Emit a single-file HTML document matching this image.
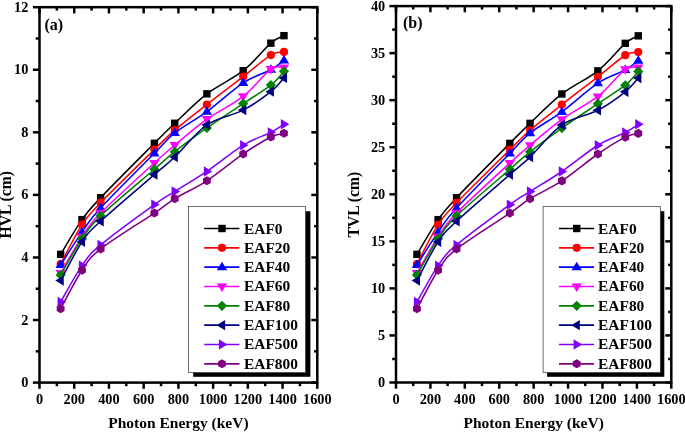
<!DOCTYPE html>
<html><head><meta charset="utf-8"><title>HVL and TVL vs Photon Energy</title>
<style>html,body{margin:0;padding:0;background:#fff;overflow:hidden}svg{display:block;will-change:transform;opacity:0.999}text{font-family:"Liberation Serif",serif;font-weight:bold;fill:#000}</style>
</head><body>
<svg width="685" height="433" viewBox="0 0 685 433">
<rect width="685" height="433" fill="#fff"/>
<path d="M60.64,254.34 C64.20,248.55 75.32,229.05 81.99,219.61 C88.65,210.18 88.55,210.44 100.62,197.72 C112.68,184.99 142.03,155.69 154.38,143.28 C166.73,130.87 165.99,131.50 174.74,123.26 C183.49,115.02 195.48,102.61 206.89,93.85 C218.30,85.10 232.54,79.15 243.20,70.71 C253.86,62.26 264.06,49.02 270.86,43.18 C277.65,37.34 281.78,36.92 283.97,35.67" fill="none" stroke="#000000" stroke-width="1.55"/>
<rect x="56.94" y="250.64" width="7.4" height="7.4" fill="#000000"/>
<rect x="78.29" y="215.91" width="7.4" height="7.4" fill="#000000"/>
<rect x="96.92" y="194.02" width="7.4" height="7.4" fill="#000000"/>
<rect x="150.68" y="139.58" width="7.4" height="7.4" fill="#000000"/>
<rect x="171.04" y="119.56" width="7.4" height="7.4" fill="#000000"/>
<rect x="203.19" y="90.15" width="7.4" height="7.4" fill="#000000"/>
<rect x="239.50" y="67.01" width="7.4" height="7.4" fill="#000000"/>
<rect x="267.16" y="39.48" width="7.4" height="7.4" fill="#000000"/>
<rect x="280.27" y="31.97" width="7.4" height="7.4" fill="#000000"/>
<path d="M60.64,264.04 C64.20,257.47 75.32,234.84 81.99,224.62 C88.65,214.40 88.55,215.23 100.62,202.72 C112.68,190.21 142.03,161.64 154.38,149.54 C166.73,137.44 165.99,137.65 174.74,130.14 C183.49,122.64 195.48,113.41 206.89,104.49 C218.30,95.58 232.54,84.89 243.20,76.65 C253.86,68.41 264.06,59.18 270.86,55.06 C277.65,50.94 281.78,52.46 283.97,51.94" fill="none" stroke="#ff0000" stroke-width="1.55"/>
<circle cx="60.64" cy="264.04" r="4.1" fill="#ff0000"/>
<circle cx="81.99" cy="224.62" r="4.1" fill="#ff0000"/>
<circle cx="100.62" cy="202.72" r="4.1" fill="#ff0000"/>
<circle cx="154.38" cy="149.54" r="4.1" fill="#ff0000"/>
<circle cx="174.74" cy="130.14" r="4.1" fill="#ff0000"/>
<circle cx="206.89" cy="104.49" r="4.1" fill="#ff0000"/>
<circle cx="243.20" cy="76.65" r="4.1" fill="#ff0000"/>
<circle cx="270.86" cy="55.06" r="4.1" fill="#ff0000"/>
<circle cx="283.97" cy="51.94" r="4.1" fill="#ff0000"/>
<path d="M60.64,264.97 C64.20,259.50 75.32,241.62 81.99,232.13 C88.65,222.64 88.55,221.18 100.62,208.04 C112.68,194.90 142.03,165.81 154.38,153.29 C166.73,140.78 165.99,139.89 174.74,132.96 C183.49,126.02 195.48,120.03 206.89,111.69 C218.30,103.34 232.54,89.89 243.20,82.91 C253.86,75.92 264.06,73.52 270.86,69.77 C277.65,66.01 281.78,61.95 283.97,60.38" fill="none" stroke="#0000ff" stroke-width="1.55"/>
<polygon points="60.64,259.57 65.84,268.07 55.44,268.07" fill="#0000ff"/>
<polygon points="81.99,226.73 87.19,235.23 76.79,235.23" fill="#0000ff"/>
<polygon points="100.62,202.64 105.82,211.14 95.42,211.14" fill="#0000ff"/>
<polygon points="154.38,147.89 159.58,156.39 149.18,156.39" fill="#0000ff"/>
<polygon points="174.74,127.56 179.94,136.06 169.54,136.06" fill="#0000ff"/>
<polygon points="206.89,106.29 212.09,114.79 201.69,114.79" fill="#0000ff"/>
<polygon points="243.20,77.51 248.40,86.01 238.00,86.01" fill="#0000ff"/>
<polygon points="270.86,64.37 276.06,72.87 265.66,72.87" fill="#0000ff"/>
<polygon points="283.97,54.98 289.17,63.48 278.77,63.48" fill="#0000ff"/>
<path d="M60.64,273.11 C64.20,267.06 75.32,246.83 81.99,236.82 C88.65,226.81 88.55,225.35 100.62,213.04 C112.68,200.74 142.03,174.31 154.38,162.99 C166.73,151.68 165.99,152.46 174.74,145.16 C183.49,137.86 195.48,127.33 206.89,119.19 C218.30,111.06 232.54,104.70 243.20,96.36 C253.86,88.02 264.06,73.94 270.86,69.14 C277.65,64.34 281.78,67.84 283.97,67.58" fill="none" stroke="#ff00ff" stroke-width="1.55"/>
<polygon points="60.64,278.51 65.84,270.01 55.44,270.01" fill="#ff00ff"/>
<polygon points="81.99,242.22 87.19,233.72 76.79,233.72" fill="#ff00ff"/>
<polygon points="100.62,218.44 105.82,209.94 95.42,209.94" fill="#ff00ff"/>
<polygon points="154.38,168.39 159.58,159.89 149.18,159.89" fill="#ff00ff"/>
<polygon points="174.74,150.56 179.94,142.06 169.54,142.06" fill="#ff00ff"/>
<polygon points="206.89,124.59 212.09,116.09 201.69,116.09" fill="#ff00ff"/>
<polygon points="243.20,101.76 248.40,93.26 238.00,93.26" fill="#ff00ff"/>
<polygon points="270.86,74.54 276.06,66.04 265.66,66.04" fill="#ff00ff"/>
<polygon points="283.97,72.98 289.17,64.48 278.77,64.48" fill="#ff00ff"/>
<path d="M60.64,274.99 C64.20,268.94 75.32,248.55 81.99,238.70 C88.65,228.84 88.55,227.43 100.62,215.86 C112.68,204.28 142.03,179.94 154.38,169.25 C166.73,158.56 165.99,158.61 174.74,151.73 C183.49,144.85 195.48,135.98 206.89,127.95 C218.30,119.92 232.54,110.70 243.20,103.55 C253.86,96.41 264.06,90.47 270.86,85.10 C277.65,79.73 281.78,73.62 283.97,71.33" fill="none" stroke="#008000" stroke-width="1.55"/>
<polygon points="60.64,269.89 65.74,274.99 60.64,280.09 55.54,274.99" fill="#008000"/>
<polygon points="81.99,233.60 87.09,238.70 81.99,243.80 76.89,238.70" fill="#008000"/>
<polygon points="100.62,210.76 105.72,215.86 100.62,220.96 95.52,215.86" fill="#008000"/>
<polygon points="154.38,164.15 159.48,169.25 154.38,174.35 149.28,169.25" fill="#008000"/>
<polygon points="174.74,146.63 179.84,151.73 174.74,156.83 169.64,151.73" fill="#008000"/>
<polygon points="206.89,122.85 211.99,127.95 206.89,133.05 201.79,127.95" fill="#008000"/>
<polygon points="243.20,98.45 248.30,103.55 243.20,108.65 238.10,103.55" fill="#008000"/>
<polygon points="270.86,80.00 275.96,85.10 270.86,90.20 265.76,85.10" fill="#008000"/>
<polygon points="283.97,66.23 289.07,71.33 283.97,76.43 278.87,71.33" fill="#008000"/>
<path d="M60.64,280.62 C64.20,274.15 75.32,251.73 81.99,241.83 C88.65,231.92 88.55,232.39 100.62,221.18 C112.68,209.97 142.03,185.25 154.38,174.57 C166.73,163.88 165.99,165.34 174.74,157.05 C183.49,148.76 195.48,132.65 206.89,124.83 C218.30,117.00 232.54,115.65 243.20,110.12 C253.86,104.60 264.06,97.04 270.86,91.66 C277.65,86.29 281.78,80.19 283.97,77.90" fill="none" stroke="#000080" stroke-width="1.55"/>
<polygon points="55.24,280.62 63.74,275.42 63.74,285.82" fill="#000080"/>
<polygon points="76.59,241.83 85.09,236.63 85.09,247.03" fill="#000080"/>
<polygon points="95.22,221.18 103.72,215.98 103.72,226.38" fill="#000080"/>
<polygon points="148.98,174.57 157.48,169.37 157.48,179.77" fill="#000080"/>
<polygon points="169.34,157.05 177.84,151.85 177.84,162.25" fill="#000080"/>
<polygon points="201.49,124.83 209.99,119.63 209.99,130.03" fill="#000080"/>
<polygon points="237.80,110.12 246.30,104.92 246.30,115.32" fill="#000080"/>
<polygon points="265.46,91.66 273.96,86.46 273.96,96.86" fill="#000080"/>
<polygon points="278.57,77.90 287.07,72.70 287.07,83.10" fill="#000080"/>
<path d="M60.64,301.89 C64.20,295.84 75.32,275.09 81.99,265.60 C88.65,256.11 88.55,255.12 100.62,244.95 C112.68,234.79 142.03,213.51 154.38,204.60 C166.73,195.68 165.99,196.99 174.74,191.46 C183.49,185.93 195.48,179.15 206.89,171.44 C218.30,163.72 232.54,151.68 243.20,145.16 C253.86,138.64 264.06,135.83 270.86,132.33 C277.65,128.84 281.78,125.56 283.97,124.20" fill="none" stroke="#8000ff" stroke-width="1.55"/>
<polygon points="66.04,301.89 57.54,296.69 57.54,307.09" fill="#8000ff"/>
<polygon points="87.39,265.60 78.89,260.40 78.89,270.80" fill="#8000ff"/>
<polygon points="106.02,244.95 97.52,239.75 97.52,250.15" fill="#8000ff"/>
<polygon points="159.78,204.60 151.28,199.40 151.28,209.80" fill="#8000ff"/>
<polygon points="180.14,191.46 171.64,186.26 171.64,196.66" fill="#8000ff"/>
<polygon points="212.29,171.44 203.79,166.24 203.79,176.64" fill="#8000ff"/>
<polygon points="248.60,145.16 240.10,139.96 240.10,150.36" fill="#8000ff"/>
<polygon points="276.26,132.33 267.76,127.13 267.76,137.53" fill="#8000ff"/>
<polygon points="289.37,124.20 280.87,119.00 280.87,129.40" fill="#8000ff"/>
<path d="M60.64,308.77 C64.20,302.36 75.32,280.25 81.99,270.29 C88.65,260.33 88.55,258.56 100.62,249.02 C112.68,239.48 142.03,221.44 154.38,213.04 C166.73,204.65 165.99,204.02 174.74,198.65 C183.49,193.28 195.48,188.28 206.89,180.82 C218.30,173.37 232.54,161.22 243.20,153.92 C253.86,146.62 264.06,140.47 270.86,137.03 C277.65,133.58 281.78,133.90 283.97,133.27" fill="none" stroke="#800080" stroke-width="1.55"/>
<polygon points="64.58,311.05 60.64,313.32 56.70,311.05 56.70,306.50 60.64,304.22 64.58,306.50" fill="#800080"/>
<polygon points="85.93,272.57 81.99,274.84 78.05,272.57 78.05,268.02 81.99,265.74 85.93,268.02" fill="#800080"/>
<polygon points="104.56,251.30 100.62,253.57 96.68,251.30 96.68,246.75 100.62,244.47 104.56,246.75" fill="#800080"/>
<polygon points="158.32,215.32 154.38,217.59 150.44,215.32 150.44,210.77 154.38,208.49 158.32,210.77" fill="#800080"/>
<polygon points="178.68,200.93 174.74,203.20 170.80,200.93 170.80,196.38 174.74,194.10 178.68,196.38" fill="#800080"/>
<polygon points="210.83,183.10 206.89,185.37 202.95,183.10 202.95,178.55 206.89,176.27 210.83,178.55" fill="#800080"/>
<polygon points="247.14,156.19 243.20,158.47 239.26,156.19 239.26,151.64 243.20,149.37 247.14,151.64" fill="#800080"/>
<polygon points="274.80,139.30 270.86,141.58 266.91,139.30 266.91,134.75 270.86,132.48 274.80,134.75" fill="#800080"/>
<polygon points="287.91,135.55 283.97,137.82 280.03,135.55 280.03,131.00 283.97,128.72 287.91,131.00" fill="#800080"/>
<rect x="193.20000000000002" y="211.20000000000002" width="117.2" height="165.6" fill="#000"/>
<rect x="188.4" y="206.4" width="117.2" height="166.2" fill="#fff" stroke="#333" stroke-width="0.7"/>
<line x1="204.20000000000002" y1="228.50" x2="239.4" y2="228.50" stroke="#000000" stroke-width="1.7"/>
<rect x="218.30" y="224.80" width="7.4" height="7.4" fill="#000000"/>
<text x="244.0" y="233.50" font-family="Liberation Serif" font-weight="bold" font-size="15.4">EAF0</text>
<line x1="204.20000000000002" y1="247.83" x2="239.4" y2="247.83" stroke="#ff0000" stroke-width="1.7"/>
<circle cx="222.00" cy="247.83" r="4.1" fill="#ff0000"/>
<text x="244.0" y="252.83" font-family="Liberation Serif" font-weight="bold" font-size="15.4">EAF20</text>
<line x1="204.20000000000002" y1="267.16" x2="239.4" y2="267.16" stroke="#0000ff" stroke-width="1.7"/>
<polygon points="222.00,261.76 227.20,270.26 216.80,270.26" fill="#0000ff"/>
<text x="244.0" y="272.16" font-family="Liberation Serif" font-weight="bold" font-size="15.4">EAF40</text>
<line x1="204.20000000000002" y1="286.49" x2="239.4" y2="286.49" stroke="#ff00ff" stroke-width="1.7"/>
<polygon points="222.00,291.89 227.20,283.39 216.80,283.39" fill="#ff00ff"/>
<text x="244.0" y="291.49" font-family="Liberation Serif" font-weight="bold" font-size="15.4">EAF60</text>
<line x1="204.20000000000002" y1="305.82" x2="239.4" y2="305.82" stroke="#008000" stroke-width="1.7"/>
<polygon points="222.00,300.72 227.10,305.82 222.00,310.92 216.90,305.82" fill="#008000"/>
<text x="244.0" y="310.82" font-family="Liberation Serif" font-weight="bold" font-size="15.4">EAF80</text>
<line x1="204.20000000000002" y1="325.15" x2="239.4" y2="325.15" stroke="#000080" stroke-width="1.7"/>
<polygon points="216.60,325.15 225.10,319.95 225.10,330.35" fill="#000080"/>
<text x="244.0" y="330.15" font-family="Liberation Serif" font-weight="bold" font-size="15.4">EAF100</text>
<line x1="204.20000000000002" y1="344.48" x2="239.4" y2="344.48" stroke="#8000ff" stroke-width="1.7"/>
<polygon points="227.40,344.48 218.90,339.28 218.90,349.68" fill="#8000ff"/>
<text x="244.0" y="349.48" font-family="Liberation Serif" font-weight="bold" font-size="15.4">EAF500</text>
<line x1="204.20000000000002" y1="363.81" x2="239.4" y2="363.81" stroke="#800080" stroke-width="1.7"/>
<polygon points="225.94,366.08 222.00,368.36 218.06,366.08 218.06,361.54 222.00,359.26 225.94,361.54" fill="#800080"/>
<text x="244.0" y="368.81" font-family="Liberation Serif" font-weight="bold" font-size="15.4">EAF800</text>
<rect x="39.5" y="7.2" width="277.8" height="375.40000000000003" fill="none" stroke="#000" stroke-width="2.5"/>
<line x1="39.50" y1="382.6" x2="39.50" y2="388.8" stroke="#000" stroke-width="2.5"/>
<line x1="39.50" y1="7.2" x2="39.50" y2="13.4" stroke="#000" stroke-width="2.5"/>
<text x="39.50" y="404.40" text-anchor="middle" font-family="Liberation Serif" font-weight="bold" font-size="14.3">0</text>
<line x1="56.86" y1="382.6" x2="56.86" y2="386.20000000000005" stroke="#000" stroke-width="2.5"/>
<line x1="56.86" y1="7.2" x2="56.86" y2="10.6" stroke="#000" stroke-width="2.5"/>
<line x1="74.22" y1="382.6" x2="74.22" y2="388.8" stroke="#000" stroke-width="2.5"/>
<line x1="74.22" y1="7.2" x2="74.22" y2="13.4" stroke="#000" stroke-width="2.5"/>
<text x="74.22" y="404.40" text-anchor="middle" font-family="Liberation Serif" font-weight="bold" font-size="14.3">200</text>
<line x1="91.59" y1="382.6" x2="91.59" y2="386.20000000000005" stroke="#000" stroke-width="2.5"/>
<line x1="91.59" y1="7.2" x2="91.59" y2="10.6" stroke="#000" stroke-width="2.5"/>
<line x1="108.95" y1="382.6" x2="108.95" y2="388.8" stroke="#000" stroke-width="2.5"/>
<line x1="108.95" y1="7.2" x2="108.95" y2="13.4" stroke="#000" stroke-width="2.5"/>
<text x="108.95" y="404.40" text-anchor="middle" font-family="Liberation Serif" font-weight="bold" font-size="14.3">400</text>
<line x1="126.31" y1="382.6" x2="126.31" y2="386.20000000000005" stroke="#000" stroke-width="2.5"/>
<line x1="126.31" y1="7.2" x2="126.31" y2="10.6" stroke="#000" stroke-width="2.5"/>
<line x1="143.68" y1="382.6" x2="143.68" y2="388.8" stroke="#000" stroke-width="2.5"/>
<line x1="143.68" y1="7.2" x2="143.68" y2="13.4" stroke="#000" stroke-width="2.5"/>
<text x="143.68" y="404.40" text-anchor="middle" font-family="Liberation Serif" font-weight="bold" font-size="14.3">600</text>
<line x1="161.04" y1="382.6" x2="161.04" y2="386.20000000000005" stroke="#000" stroke-width="2.5"/>
<line x1="161.04" y1="7.2" x2="161.04" y2="10.6" stroke="#000" stroke-width="2.5"/>
<line x1="178.40" y1="382.6" x2="178.40" y2="388.8" stroke="#000" stroke-width="2.5"/>
<line x1="178.40" y1="7.2" x2="178.40" y2="13.4" stroke="#000" stroke-width="2.5"/>
<text x="178.40" y="404.40" text-anchor="middle" font-family="Liberation Serif" font-weight="bold" font-size="14.3">800</text>
<line x1="195.76" y1="382.6" x2="195.76" y2="386.20000000000005" stroke="#000" stroke-width="2.5"/>
<line x1="195.76" y1="7.2" x2="195.76" y2="10.6" stroke="#000" stroke-width="2.5"/>
<line x1="213.12" y1="382.6" x2="213.12" y2="388.8" stroke="#000" stroke-width="2.5"/>
<line x1="213.12" y1="7.2" x2="213.12" y2="13.4" stroke="#000" stroke-width="2.5"/>
<text x="213.12" y="404.40" text-anchor="middle" font-family="Liberation Serif" font-weight="bold" font-size="14.3">1000</text>
<line x1="230.49" y1="382.6" x2="230.49" y2="386.20000000000005" stroke="#000" stroke-width="2.5"/>
<line x1="230.49" y1="7.2" x2="230.49" y2="10.6" stroke="#000" stroke-width="2.5"/>
<line x1="247.85" y1="382.6" x2="247.85" y2="388.8" stroke="#000" stroke-width="2.5"/>
<line x1="247.85" y1="7.2" x2="247.85" y2="13.4" stroke="#000" stroke-width="2.5"/>
<text x="247.85" y="404.40" text-anchor="middle" font-family="Liberation Serif" font-weight="bold" font-size="14.3">1200</text>
<line x1="265.21" y1="382.6" x2="265.21" y2="386.20000000000005" stroke="#000" stroke-width="2.5"/>
<line x1="265.21" y1="7.2" x2="265.21" y2="10.6" stroke="#000" stroke-width="2.5"/>
<line x1="282.57" y1="382.6" x2="282.57" y2="388.8" stroke="#000" stroke-width="2.5"/>
<line x1="282.57" y1="7.2" x2="282.57" y2="13.4" stroke="#000" stroke-width="2.5"/>
<text x="282.57" y="404.40" text-anchor="middle" font-family="Liberation Serif" font-weight="bold" font-size="14.3">1400</text>
<line x1="299.94" y1="382.6" x2="299.94" y2="386.20000000000005" stroke="#000" stroke-width="2.5"/>
<line x1="299.94" y1="7.2" x2="299.94" y2="10.6" stroke="#000" stroke-width="2.5"/>
<line x1="317.30" y1="382.6" x2="317.30" y2="388.8" stroke="#000" stroke-width="2.5"/>
<line x1="317.30" y1="7.2" x2="317.30" y2="13.4" stroke="#000" stroke-width="2.5"/>
<text x="317.30" y="404.40" text-anchor="middle" font-family="Liberation Serif" font-weight="bold" font-size="14.3">1600</text>
<line x1="32.9" y1="382.60" x2="39.5" y2="382.60" stroke="#000" stroke-width="2.5"/>
<line x1="311.3" y1="382.60" x2="317.3" y2="382.60" stroke="#000" stroke-width="2.5"/>
<text x="28.30" y="387.10" text-anchor="end" font-family="Liberation Serif" font-weight="bold" font-size="14.3">0</text>
<line x1="35.7" y1="351.32" x2="39.5" y2="351.32" stroke="#000" stroke-width="2.5"/>
<line x1="314.1" y1="351.32" x2="317.3" y2="351.32" stroke="#000" stroke-width="2.5"/>
<line x1="32.9" y1="320.03" x2="39.5" y2="320.03" stroke="#000" stroke-width="2.5"/>
<line x1="311.3" y1="320.03" x2="317.3" y2="320.03" stroke="#000" stroke-width="2.5"/>
<text x="28.30" y="324.53" text-anchor="end" font-family="Liberation Serif" font-weight="bold" font-size="14.3">2</text>
<line x1="35.7" y1="288.75" x2="39.5" y2="288.75" stroke="#000" stroke-width="2.5"/>
<line x1="314.1" y1="288.75" x2="317.3" y2="288.75" stroke="#000" stroke-width="2.5"/>
<line x1="32.9" y1="257.47" x2="39.5" y2="257.47" stroke="#000" stroke-width="2.5"/>
<line x1="311.3" y1="257.47" x2="317.3" y2="257.47" stroke="#000" stroke-width="2.5"/>
<text x="28.30" y="261.97" text-anchor="end" font-family="Liberation Serif" font-weight="bold" font-size="14.3">4</text>
<line x1="35.7" y1="226.18" x2="39.5" y2="226.18" stroke="#000" stroke-width="2.5"/>
<line x1="314.1" y1="226.18" x2="317.3" y2="226.18" stroke="#000" stroke-width="2.5"/>
<line x1="32.9" y1="194.90" x2="39.5" y2="194.90" stroke="#000" stroke-width="2.5"/>
<line x1="311.3" y1="194.90" x2="317.3" y2="194.90" stroke="#000" stroke-width="2.5"/>
<text x="28.30" y="199.40" text-anchor="end" font-family="Liberation Serif" font-weight="bold" font-size="14.3">6</text>
<line x1="35.7" y1="163.62" x2="39.5" y2="163.62" stroke="#000" stroke-width="2.5"/>
<line x1="314.1" y1="163.62" x2="317.3" y2="163.62" stroke="#000" stroke-width="2.5"/>
<line x1="32.9" y1="132.33" x2="39.5" y2="132.33" stroke="#000" stroke-width="2.5"/>
<line x1="311.3" y1="132.33" x2="317.3" y2="132.33" stroke="#000" stroke-width="2.5"/>
<text x="28.30" y="136.83" text-anchor="end" font-family="Liberation Serif" font-weight="bold" font-size="14.3">8</text>
<line x1="35.7" y1="101.05" x2="39.5" y2="101.05" stroke="#000" stroke-width="2.5"/>
<line x1="314.1" y1="101.05" x2="317.3" y2="101.05" stroke="#000" stroke-width="2.5"/>
<line x1="32.9" y1="69.77" x2="39.5" y2="69.77" stroke="#000" stroke-width="2.5"/>
<line x1="311.3" y1="69.77" x2="317.3" y2="69.77" stroke="#000" stroke-width="2.5"/>
<text x="28.30" y="74.27" text-anchor="end" font-family="Liberation Serif" font-weight="bold" font-size="14.3">10</text>
<line x1="35.7" y1="38.48" x2="39.5" y2="38.48" stroke="#000" stroke-width="2.5"/>
<line x1="314.1" y1="38.48" x2="317.3" y2="38.48" stroke="#000" stroke-width="2.5"/>
<line x1="32.9" y1="7.20" x2="39.5" y2="7.20" stroke="#000" stroke-width="2.5"/>
<line x1="311.3" y1="7.20" x2="317.3" y2="7.20" stroke="#000" stroke-width="2.5"/>
<text x="28.30" y="11.70" text-anchor="end" font-family="Liberation Serif" font-weight="bold" font-size="14.3">12</text>
<text x="178.40" y="428.4" text-anchor="middle" font-family="Liberation Serif" font-weight="bold" font-size="15.5">Photon Energy (keV)</text>
<text transform="translate(10.80,204.7) rotate(-90)" text-anchor="middle" font-family="Liberation Serif" font-weight="bold" font-size="15.7">HVL (cm)</text>
<text x="44.50" y="29.9" font-family="Liberation Serif" font-weight="bold" font-size="16">(a)</text>
<path d="M416.95,254.34 C420.48,248.55 431.50,229.07 438.10,219.64 C444.71,210.21 444.61,210.47 456.57,197.76 C468.52,185.05 497.60,155.77 509.85,143.37 C522.09,130.97 521.35,131.59 530.02,123.36 C538.69,115.13 550.57,102.73 561.88,93.98 C573.19,85.23 587.30,79.29 597.87,70.85 C608.43,62.41 618.54,49.17 625.27,43.34 C632.01,37.50 636.10,37.09 638.27,35.84" fill="none" stroke="#000000" stroke-width="1.55"/>
<rect x="413.25" y="250.64" width="7.4" height="7.4" fill="#000000"/>
<rect x="434.40" y="215.94" width="7.4" height="7.4" fill="#000000"/>
<rect x="452.87" y="194.06" width="7.4" height="7.4" fill="#000000"/>
<rect x="506.15" y="139.67" width="7.4" height="7.4" fill="#000000"/>
<rect x="526.32" y="119.66" width="7.4" height="7.4" fill="#000000"/>
<rect x="558.18" y="90.28" width="7.4" height="7.4" fill="#000000"/>
<rect x="594.17" y="67.15" width="7.4" height="7.4" fill="#000000"/>
<rect x="621.57" y="39.64" width="7.4" height="7.4" fill="#000000"/>
<rect x="634.57" y="32.14" width="7.4" height="7.4" fill="#000000"/>
<path d="M416.95,264.03 C420.48,257.46 431.50,234.85 438.10,224.64 C444.71,214.43 444.61,215.26 456.57,202.76 C468.52,190.26 497.60,161.71 509.85,149.62 C522.09,137.53 521.35,137.74 530.02,130.24 C538.69,122.74 550.57,113.52 561.88,104.61 C573.19,95.70 587.30,85.02 597.87,76.79 C608.43,68.55 618.54,59.33 625.27,55.22 C632.01,51.10 636.10,52.61 638.27,52.09" fill="none" stroke="#ff0000" stroke-width="1.55"/>
<circle cx="416.95" cy="264.03" r="4.1" fill="#ff0000"/>
<circle cx="438.10" cy="224.64" r="4.1" fill="#ff0000"/>
<circle cx="456.57" cy="202.76" r="4.1" fill="#ff0000"/>
<circle cx="509.85" cy="149.62" r="4.1" fill="#ff0000"/>
<circle cx="530.02" cy="130.24" r="4.1" fill="#ff0000"/>
<circle cx="561.88" cy="104.61" r="4.1" fill="#ff0000"/>
<circle cx="597.87" cy="76.79" r="4.1" fill="#ff0000"/>
<circle cx="625.27" cy="55.22" r="4.1" fill="#ff0000"/>
<circle cx="638.27" cy="52.09" r="4.1" fill="#ff0000"/>
<path d="M416.95,264.97 C420.48,259.50 431.50,241.63 438.10,232.14 C444.71,222.66 444.61,221.20 456.57,208.07 C468.52,194.95 497.60,165.87 509.85,153.37 C522.09,140.87 521.35,139.98 530.02,133.05 C538.69,126.12 550.57,120.13 561.88,111.80 C573.19,103.46 587.30,90.02 597.87,83.04 C608.43,76.06 618.54,73.66 625.27,69.91 C632.01,66.16 636.10,62.09 638.27,60.53" fill="none" stroke="#0000ff" stroke-width="1.55"/>
<polygon points="416.95,259.57 422.15,268.07 411.75,268.07" fill="#0000ff"/>
<polygon points="438.10,226.74 443.30,235.24 432.90,235.24" fill="#0000ff"/>
<polygon points="456.57,202.67 461.77,211.17 451.37,211.17" fill="#0000ff"/>
<polygon points="509.85,147.97 515.05,156.47 504.65,156.47" fill="#0000ff"/>
<polygon points="530.02,127.65 535.22,136.15 524.82,136.15" fill="#0000ff"/>
<polygon points="561.88,106.40 567.08,114.90 556.68,114.90" fill="#0000ff"/>
<polygon points="597.87,77.64 603.07,86.14 592.67,86.14" fill="#0000ff"/>
<polygon points="625.27,64.51 630.47,73.01 620.07,73.01" fill="#0000ff"/>
<polygon points="638.27,55.13 643.47,63.63 633.07,63.63" fill="#0000ff"/>
<path d="M416.95,273.09 C420.48,267.05 431.50,246.84 438.10,236.83 C444.71,226.83 444.61,225.37 456.57,213.08 C468.52,200.78 497.60,174.37 509.85,163.06 C522.09,151.76 521.35,152.54 530.02,145.24 C538.69,137.95 550.57,127.43 561.88,119.30 C573.19,111.17 587.30,104.82 597.87,96.48 C608.43,88.14 618.54,74.08 625.27,69.28 C632.01,64.49 636.10,67.98 638.27,67.72" fill="none" stroke="#ff00ff" stroke-width="1.55"/>
<polygon points="416.95,278.49 422.15,269.99 411.75,269.99" fill="#ff00ff"/>
<polygon points="438.10,242.23 443.30,233.73 432.90,233.73" fill="#ff00ff"/>
<polygon points="456.57,218.48 461.77,209.98 451.37,209.98" fill="#ff00ff"/>
<polygon points="509.85,168.46 515.05,159.96 504.65,159.96" fill="#ff00ff"/>
<polygon points="530.02,150.64 535.22,142.14 524.82,142.14" fill="#ff00ff"/>
<polygon points="561.88,124.70 567.08,116.20 556.68,116.20" fill="#ff00ff"/>
<polygon points="597.87,101.88 603.07,93.38 592.67,93.38" fill="#ff00ff"/>
<polygon points="625.27,74.68 630.47,66.18 620.07,66.18" fill="#ff00ff"/>
<polygon points="638.27,73.12 643.47,64.62 633.07,64.62" fill="#ff00ff"/>
<path d="M416.95,274.97 C420.48,268.93 431.50,248.55 438.10,238.71 C444.71,228.86 444.61,227.45 456.57,215.89 C468.52,204.32 497.60,179.99 509.85,169.31 C522.09,158.63 521.35,158.68 530.02,151.81 C538.69,144.93 550.57,136.07 561.88,128.05 C573.19,120.03 587.30,110.81 597.87,103.67 C608.43,96.53 618.54,90.59 625.27,85.23 C632.01,79.86 636.10,73.76 638.27,71.47" fill="none" stroke="#008000" stroke-width="1.55"/>
<polygon points="416.95,269.87 422.05,274.97 416.95,280.07 411.85,274.97" fill="#008000"/>
<polygon points="438.10,233.61 443.20,238.71 438.10,243.81 433.00,238.71" fill="#008000"/>
<polygon points="456.57,210.79 461.67,215.89 456.57,220.99 451.47,215.89" fill="#008000"/>
<polygon points="509.85,164.21 514.95,169.31 509.85,174.41 504.75,169.31" fill="#008000"/>
<polygon points="530.02,146.71 535.12,151.81 530.02,156.91 524.92,151.81" fill="#008000"/>
<polygon points="561.88,122.95 566.98,128.05 561.88,133.15 556.78,128.05" fill="#008000"/>
<polygon points="597.87,98.57 602.97,103.67 597.87,108.77 592.77,103.67" fill="#008000"/>
<polygon points="625.27,80.13 630.37,85.23 625.27,90.33 620.17,85.23" fill="#008000"/>
<polygon points="638.27,66.37 643.37,71.47 638.27,76.57 633.17,71.47" fill="#008000"/>
<path d="M416.95,280.60 C420.48,274.14 431.50,251.73 438.10,241.83 C444.71,231.94 444.61,232.40 456.57,221.20 C468.52,210.00 497.60,185.31 509.85,174.63 C522.09,163.95 521.35,165.41 530.02,157.12 C538.69,148.84 550.57,132.74 561.88,124.93 C573.19,117.11 587.30,115.76 597.87,110.23 C608.43,104.71 618.54,97.16 625.27,91.79 C632.01,86.42 636.10,80.33 638.27,78.04" fill="none" stroke="#000080" stroke-width="1.55"/>
<polygon points="411.55,280.60 420.05,275.40 420.05,285.80" fill="#000080"/>
<polygon points="432.70,241.83 441.20,236.63 441.20,247.03" fill="#000080"/>
<polygon points="451.17,221.20 459.67,216.00 459.67,226.40" fill="#000080"/>
<polygon points="504.45,174.63 512.95,169.43 512.95,179.83" fill="#000080"/>
<polygon points="524.62,157.12 533.12,151.92 533.12,162.32" fill="#000080"/>
<polygon points="556.48,124.93 564.98,119.73 564.98,130.13" fill="#000080"/>
<polygon points="592.47,110.23 600.97,105.03 600.97,115.43" fill="#000080"/>
<polygon points="619.87,91.79 628.37,86.59 628.37,96.99" fill="#000080"/>
<polygon points="632.87,78.04 641.37,72.84 641.37,83.24" fill="#000080"/>
<path d="M416.95,301.85 C420.48,295.81 431.50,275.07 438.10,265.59 C444.71,256.11 444.61,255.12 456.57,244.96 C468.52,234.80 497.60,213.54 509.85,204.64 C522.09,195.73 521.35,197.03 530.02,191.51 C538.69,185.98 550.57,179.21 561.88,171.50 C573.19,163.79 587.30,151.76 597.87,145.24 C608.43,138.73 618.54,135.92 625.27,132.43 C632.01,128.94 636.10,125.65 638.27,124.30" fill="none" stroke="#8000ff" stroke-width="1.55"/>
<polygon points="422.35,301.85 413.85,296.65 413.85,307.05" fill="#8000ff"/>
<polygon points="443.50,265.59 435.00,260.39 435.00,270.79" fill="#8000ff"/>
<polygon points="461.97,244.96 453.47,239.76 453.47,250.16" fill="#8000ff"/>
<polygon points="515.25,204.64 506.75,199.44 506.75,209.84" fill="#8000ff"/>
<polygon points="535.42,191.51 526.92,186.31 526.92,196.71" fill="#8000ff"/>
<polygon points="567.28,171.50 558.78,166.30 558.78,176.70" fill="#8000ff"/>
<polygon points="603.27,145.24 594.77,140.04 594.77,150.44" fill="#8000ff"/>
<polygon points="630.67,132.43 622.17,127.23 622.17,137.63" fill="#8000ff"/>
<polygon points="643.67,124.30 635.17,119.10 635.17,129.50" fill="#8000ff"/>
<path d="M416.95,308.73 C420.48,302.32 431.50,280.23 438.10,270.28 C444.71,260.33 444.61,258.56 456.57,249.02 C468.52,239.49 497.60,221.46 509.85,213.08 C522.09,204.69 521.35,204.06 530.02,198.70 C538.69,193.33 550.57,188.33 561.88,180.88 C573.19,173.43 587.30,161.29 597.87,154.00 C608.43,146.70 618.54,140.55 625.27,137.12 C632.01,133.68 636.10,133.99 638.27,133.37" fill="none" stroke="#800080" stroke-width="1.55"/>
<polygon points="420.89,311.00 416.95,313.28 413.01,311.00 413.01,306.45 416.95,304.18 420.89,306.45" fill="#800080"/>
<polygon points="442.04,272.55 438.10,274.83 434.16,272.55 434.16,268.00 438.10,265.73 442.04,268.00" fill="#800080"/>
<polygon points="460.51,251.30 456.57,253.57 452.63,251.30 452.63,246.75 456.57,244.47 460.51,246.75" fill="#800080"/>
<polygon points="513.79,215.35 509.85,217.63 505.91,215.35 505.91,210.80 509.85,208.53 513.79,210.80" fill="#800080"/>
<polygon points="533.96,200.97 530.02,203.25 526.08,200.97 526.08,196.42 530.02,194.15 533.96,196.42" fill="#800080"/>
<polygon points="565.82,183.15 561.88,185.43 557.94,183.15 557.94,178.60 561.88,176.33 565.82,178.60" fill="#800080"/>
<polygon points="601.81,156.27 597.87,158.55 593.93,156.27 593.93,151.72 597.87,149.45 601.81,151.72" fill="#800080"/>
<polygon points="629.21,139.39 625.27,141.67 621.33,139.39 621.33,134.84 625.27,132.57 629.21,134.84" fill="#800080"/>
<polygon points="642.21,135.64 638.27,137.92 634.33,135.64 634.33,131.09 638.27,128.82 642.21,131.09" fill="#800080"/>
<rect x="547.1" y="211.20000000000002" width="117.2" height="165.6" fill="#000"/>
<rect x="543.1" y="206.4" width="117.2" height="166.2" fill="#fff" stroke="#333" stroke-width="0.7"/>
<line x1="558.9" y1="228.50" x2="594.1" y2="228.50" stroke="#000000" stroke-width="1.7"/>
<rect x="573.00" y="224.80" width="7.4" height="7.4" fill="#000000"/>
<text x="598.1" y="233.50" font-family="Liberation Serif" font-weight="bold" font-size="15.4">EAF0</text>
<line x1="558.9" y1="247.83" x2="594.1" y2="247.83" stroke="#ff0000" stroke-width="1.7"/>
<circle cx="576.70" cy="247.83" r="4.1" fill="#ff0000"/>
<text x="598.1" y="252.83" font-family="Liberation Serif" font-weight="bold" font-size="15.4">EAF20</text>
<line x1="558.9" y1="267.16" x2="594.1" y2="267.16" stroke="#0000ff" stroke-width="1.7"/>
<polygon points="576.70,261.76 581.90,270.26 571.50,270.26" fill="#0000ff"/>
<text x="598.1" y="272.16" font-family="Liberation Serif" font-weight="bold" font-size="15.4">EAF40</text>
<line x1="558.9" y1="286.49" x2="594.1" y2="286.49" stroke="#ff00ff" stroke-width="1.7"/>
<polygon points="576.70,291.89 581.90,283.39 571.50,283.39" fill="#ff00ff"/>
<text x="598.1" y="291.49" font-family="Liberation Serif" font-weight="bold" font-size="15.4">EAF60</text>
<line x1="558.9" y1="305.82" x2="594.1" y2="305.82" stroke="#008000" stroke-width="1.7"/>
<polygon points="576.70,300.72 581.80,305.82 576.70,310.92 571.60,305.82" fill="#008000"/>
<text x="598.1" y="310.82" font-family="Liberation Serif" font-weight="bold" font-size="15.4">EAF80</text>
<line x1="558.9" y1="325.15" x2="594.1" y2="325.15" stroke="#000080" stroke-width="1.7"/>
<polygon points="571.30,325.15 579.80,319.95 579.80,330.35" fill="#000080"/>
<text x="598.1" y="330.15" font-family="Liberation Serif" font-weight="bold" font-size="15.4">EAF100</text>
<line x1="558.9" y1="344.48" x2="594.1" y2="344.48" stroke="#8000ff" stroke-width="1.7"/>
<polygon points="582.10,344.48 573.60,339.28 573.60,349.68" fill="#8000ff"/>
<text x="598.1" y="349.48" font-family="Liberation Serif" font-weight="bold" font-size="15.4">EAF500</text>
<line x1="558.9" y1="363.81" x2="594.1" y2="363.81" stroke="#800080" stroke-width="1.7"/>
<polygon points="580.64,366.08 576.70,368.36 572.76,366.08 572.76,361.54 576.70,359.26 580.64,361.54" fill="#800080"/>
<text x="598.1" y="368.81" font-family="Liberation Serif" font-weight="bold" font-size="15.4">EAF800</text>
<rect x="396.0" y="6.1" width="275.29999999999995" height="376.4" fill="none" stroke="#000" stroke-width="2.5"/>
<line x1="396.00" y1="382.5" x2="396.00" y2="388.7" stroke="#000" stroke-width="2.5"/>
<line x1="396.00" y1="6.1" x2="396.00" y2="12.3" stroke="#000" stroke-width="2.5"/>
<text x="396.00" y="404.30" text-anchor="middle" font-family="Liberation Serif" font-weight="bold" font-size="14.3">0</text>
<line x1="413.21" y1="382.5" x2="413.21" y2="386.1" stroke="#000" stroke-width="2.5"/>
<line x1="413.21" y1="6.1" x2="413.21" y2="9.5" stroke="#000" stroke-width="2.5"/>
<line x1="430.41" y1="382.5" x2="430.41" y2="388.7" stroke="#000" stroke-width="2.5"/>
<line x1="430.41" y1="6.1" x2="430.41" y2="12.3" stroke="#000" stroke-width="2.5"/>
<text x="430.41" y="404.30" text-anchor="middle" font-family="Liberation Serif" font-weight="bold" font-size="14.3">200</text>
<line x1="447.62" y1="382.5" x2="447.62" y2="386.1" stroke="#000" stroke-width="2.5"/>
<line x1="447.62" y1="6.1" x2="447.62" y2="9.5" stroke="#000" stroke-width="2.5"/>
<line x1="464.82" y1="382.5" x2="464.82" y2="388.7" stroke="#000" stroke-width="2.5"/>
<line x1="464.82" y1="6.1" x2="464.82" y2="12.3" stroke="#000" stroke-width="2.5"/>
<text x="464.82" y="404.30" text-anchor="middle" font-family="Liberation Serif" font-weight="bold" font-size="14.3">400</text>
<line x1="482.03" y1="382.5" x2="482.03" y2="386.1" stroke="#000" stroke-width="2.5"/>
<line x1="482.03" y1="6.1" x2="482.03" y2="9.5" stroke="#000" stroke-width="2.5"/>
<line x1="499.24" y1="382.5" x2="499.24" y2="388.7" stroke="#000" stroke-width="2.5"/>
<line x1="499.24" y1="6.1" x2="499.24" y2="12.3" stroke="#000" stroke-width="2.5"/>
<text x="499.24" y="404.30" text-anchor="middle" font-family="Liberation Serif" font-weight="bold" font-size="14.3">600</text>
<line x1="516.44" y1="382.5" x2="516.44" y2="386.1" stroke="#000" stroke-width="2.5"/>
<line x1="516.44" y1="6.1" x2="516.44" y2="9.5" stroke="#000" stroke-width="2.5"/>
<line x1="533.65" y1="382.5" x2="533.65" y2="388.7" stroke="#000" stroke-width="2.5"/>
<line x1="533.65" y1="6.1" x2="533.65" y2="12.3" stroke="#000" stroke-width="2.5"/>
<text x="533.65" y="404.30" text-anchor="middle" font-family="Liberation Serif" font-weight="bold" font-size="14.3">800</text>
<line x1="550.86" y1="382.5" x2="550.86" y2="386.1" stroke="#000" stroke-width="2.5"/>
<line x1="550.86" y1="6.1" x2="550.86" y2="9.5" stroke="#000" stroke-width="2.5"/>
<line x1="568.06" y1="382.5" x2="568.06" y2="388.7" stroke="#000" stroke-width="2.5"/>
<line x1="568.06" y1="6.1" x2="568.06" y2="12.3" stroke="#000" stroke-width="2.5"/>
<text x="568.06" y="404.30" text-anchor="middle" font-family="Liberation Serif" font-weight="bold" font-size="14.3">1000</text>
<line x1="585.27" y1="382.5" x2="585.27" y2="386.1" stroke="#000" stroke-width="2.5"/>
<line x1="585.27" y1="6.1" x2="585.27" y2="9.5" stroke="#000" stroke-width="2.5"/>
<line x1="602.47" y1="382.5" x2="602.47" y2="388.7" stroke="#000" stroke-width="2.5"/>
<line x1="602.47" y1="6.1" x2="602.47" y2="12.3" stroke="#000" stroke-width="2.5"/>
<text x="602.47" y="404.30" text-anchor="middle" font-family="Liberation Serif" font-weight="bold" font-size="14.3">1200</text>
<line x1="619.68" y1="382.5" x2="619.68" y2="386.1" stroke="#000" stroke-width="2.5"/>
<line x1="619.68" y1="6.1" x2="619.68" y2="9.5" stroke="#000" stroke-width="2.5"/>
<line x1="636.89" y1="382.5" x2="636.89" y2="388.7" stroke="#000" stroke-width="2.5"/>
<line x1="636.89" y1="6.1" x2="636.89" y2="12.3" stroke="#000" stroke-width="2.5"/>
<text x="636.89" y="404.30" text-anchor="middle" font-family="Liberation Serif" font-weight="bold" font-size="14.3">1400</text>
<line x1="654.09" y1="382.5" x2="654.09" y2="386.1" stroke="#000" stroke-width="2.5"/>
<line x1="654.09" y1="6.1" x2="654.09" y2="9.5" stroke="#000" stroke-width="2.5"/>
<line x1="671.30" y1="382.5" x2="671.30" y2="388.7" stroke="#000" stroke-width="2.5"/>
<line x1="671.30" y1="6.1" x2="671.30" y2="12.3" stroke="#000" stroke-width="2.5"/>
<text x="671.30" y="404.30" text-anchor="middle" font-family="Liberation Serif" font-weight="bold" font-size="14.3">1600</text>
<line x1="389.4" y1="382.50" x2="396.0" y2="382.50" stroke="#000" stroke-width="2.5"/>
<line x1="665.3" y1="382.50" x2="671.3" y2="382.50" stroke="#000" stroke-width="2.5"/>
<text x="385.20" y="387.00" text-anchor="end" font-family="Liberation Serif" font-weight="bold" font-size="14.3">0</text>
<line x1="392.2" y1="358.98" x2="396.0" y2="358.98" stroke="#000" stroke-width="2.5"/>
<line x1="668.0999999999999" y1="358.98" x2="671.3" y2="358.98" stroke="#000" stroke-width="2.5"/>
<line x1="389.4" y1="335.45" x2="396.0" y2="335.45" stroke="#000" stroke-width="2.5"/>
<line x1="665.3" y1="335.45" x2="671.3" y2="335.45" stroke="#000" stroke-width="2.5"/>
<text x="385.20" y="339.95" text-anchor="end" font-family="Liberation Serif" font-weight="bold" font-size="14.3">5</text>
<line x1="392.2" y1="311.93" x2="396.0" y2="311.93" stroke="#000" stroke-width="2.5"/>
<line x1="668.0999999999999" y1="311.93" x2="671.3" y2="311.93" stroke="#000" stroke-width="2.5"/>
<line x1="389.4" y1="288.40" x2="396.0" y2="288.40" stroke="#000" stroke-width="2.5"/>
<line x1="665.3" y1="288.40" x2="671.3" y2="288.40" stroke="#000" stroke-width="2.5"/>
<text x="385.20" y="292.90" text-anchor="end" font-family="Liberation Serif" font-weight="bold" font-size="14.3">10</text>
<line x1="392.2" y1="264.88" x2="396.0" y2="264.88" stroke="#000" stroke-width="2.5"/>
<line x1="668.0999999999999" y1="264.88" x2="671.3" y2="264.88" stroke="#000" stroke-width="2.5"/>
<line x1="389.4" y1="241.35" x2="396.0" y2="241.35" stroke="#000" stroke-width="2.5"/>
<line x1="665.3" y1="241.35" x2="671.3" y2="241.35" stroke="#000" stroke-width="2.5"/>
<text x="385.20" y="245.85" text-anchor="end" font-family="Liberation Serif" font-weight="bold" font-size="14.3">15</text>
<line x1="392.2" y1="217.82" x2="396.0" y2="217.82" stroke="#000" stroke-width="2.5"/>
<line x1="668.0999999999999" y1="217.82" x2="671.3" y2="217.82" stroke="#000" stroke-width="2.5"/>
<line x1="389.4" y1="194.30" x2="396.0" y2="194.30" stroke="#000" stroke-width="2.5"/>
<line x1="665.3" y1="194.30" x2="671.3" y2="194.30" stroke="#000" stroke-width="2.5"/>
<text x="385.20" y="198.80" text-anchor="end" font-family="Liberation Serif" font-weight="bold" font-size="14.3">20</text>
<line x1="392.2" y1="170.78" x2="396.0" y2="170.78" stroke="#000" stroke-width="2.5"/>
<line x1="668.0999999999999" y1="170.78" x2="671.3" y2="170.78" stroke="#000" stroke-width="2.5"/>
<line x1="389.4" y1="147.25" x2="396.0" y2="147.25" stroke="#000" stroke-width="2.5"/>
<line x1="665.3" y1="147.25" x2="671.3" y2="147.25" stroke="#000" stroke-width="2.5"/>
<text x="385.20" y="151.75" text-anchor="end" font-family="Liberation Serif" font-weight="bold" font-size="14.3">25</text>
<line x1="392.2" y1="123.73" x2="396.0" y2="123.73" stroke="#000" stroke-width="2.5"/>
<line x1="668.0999999999999" y1="123.73" x2="671.3" y2="123.73" stroke="#000" stroke-width="2.5"/>
<line x1="389.4" y1="100.20" x2="396.0" y2="100.20" stroke="#000" stroke-width="2.5"/>
<line x1="665.3" y1="100.20" x2="671.3" y2="100.20" stroke="#000" stroke-width="2.5"/>
<text x="385.20" y="104.70" text-anchor="end" font-family="Liberation Serif" font-weight="bold" font-size="14.3">30</text>
<line x1="392.2" y1="76.68" x2="396.0" y2="76.68" stroke="#000" stroke-width="2.5"/>
<line x1="668.0999999999999" y1="76.68" x2="671.3" y2="76.68" stroke="#000" stroke-width="2.5"/>
<line x1="389.4" y1="53.15" x2="396.0" y2="53.15" stroke="#000" stroke-width="2.5"/>
<line x1="665.3" y1="53.15" x2="671.3" y2="53.15" stroke="#000" stroke-width="2.5"/>
<text x="385.20" y="57.65" text-anchor="end" font-family="Liberation Serif" font-weight="bold" font-size="14.3">35</text>
<line x1="392.2" y1="29.62" x2="396.0" y2="29.62" stroke="#000" stroke-width="2.5"/>
<line x1="668.0999999999999" y1="29.62" x2="671.3" y2="29.62" stroke="#000" stroke-width="2.5"/>
<line x1="389.4" y1="6.10" x2="396.0" y2="6.10" stroke="#000" stroke-width="2.5"/>
<line x1="665.3" y1="6.10" x2="671.3" y2="6.10" stroke="#000" stroke-width="2.5"/>
<text x="385.20" y="10.60" text-anchor="end" font-family="Liberation Serif" font-weight="bold" font-size="14.3">40</text>
<text x="533.65" y="428.4" text-anchor="middle" font-family="Liberation Serif" font-weight="bold" font-size="15.5">Photon Energy (keV)</text>
<text transform="translate(359.40,204.7) rotate(-90)" text-anchor="middle" font-family="Liberation Serif" font-weight="bold" font-size="15.7">TVL (cm)</text>
<text x="403.00" y="27.5" font-family="Liberation Serif" font-weight="bold" font-size="16">(b)</text>
</svg>
</body></html>
